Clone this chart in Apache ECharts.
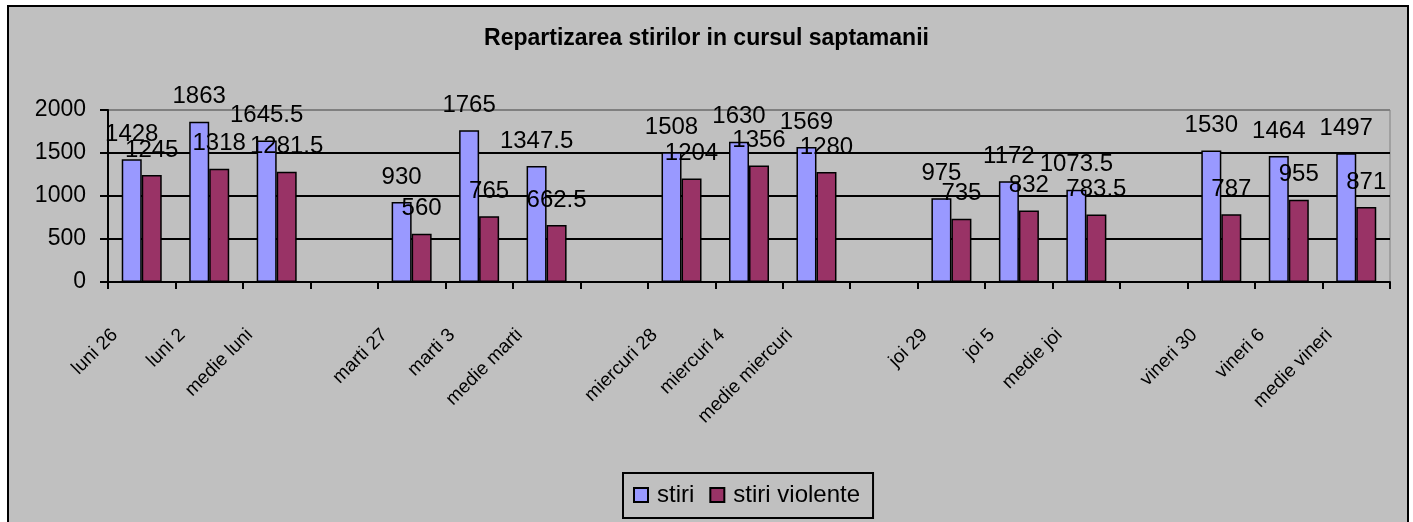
<!DOCTYPE html>
<html>
<head>
<meta charset="utf-8">
<title>Repartizarea stirilor</title>
<script src="https://cdn.jsdelivr.net/npm/echarts@6/dist/echarts.min.js"></script>
<style>
    html, body { margin: 0; padding: 0; background: #fff; overflow: hidden; }
    #frame {
        position: absolute; left: 7px; top: 5px;
        width: 1402px; height: 530px;
        box-sizing: border-box;
        border: 2px solid #000;
        background: #c0c0c0;
    }
    #chart { position: absolute; left: 0; top: 0; width: 1413px; height: 522px; }
</style>
</head>
<body>
<div id="frame"></div>
<div id="chart"></div>
<script>
'use strict';

// categorii (coloanele goale separa zilele)
var zile = ['luni 26', 'luni 2', 'medie luni', '',
            'marti 27', 'marti 3', 'medie marti', '',
            'miercuri 28', 'miercuri 4', 'medie miercuri', '',
            'joi 29', 'joi 5', 'medie joi', '',
            'vineri 30', 'vineri 6', 'medie vineri'];

// valori
var stiri = [1428, 1863, 1645.5, null,
             930, 1765, 1347.5, null,
             1508, 1630, 1569, null,
             975, 1172, 1073.5, null,
             1530, 1464, 1497];
var stiriViolente = [1245, 1318, 1281.5, null,
                     560, 765, 662.5, null,
                     1204, 1356, 1280, null,
                     735, 832, 783.5, null,
                     787, 955, 871];

// axa y
var yTicks = [0, 500, 1000, 1500, 2000];

var chart = echarts.init(document.getElementById('chart'));

var font = 'Liberation Sans, Arial, sans-serif';

// eticheta de valoare deasupra barei
var valueLabel = {
    show: true,
    position: 'top',
    distance: 13,
    color: '#000',
    fontFamily: font,
    fontSize: 24,
    formatter: function(p){ return p.value; }
};

var option = {
    backgroundColor: 'transparent',
    animation: false,
    textStyle: { fontFamily: font },
    title: {
        text: 'Repartizarea stirilor in cursul saptamanii',
        left: 'center',
        top: 22,
        textStyle: { fontSize: 23, fontWeight: 'bold', color: '#000', fontFamily: font }
    },
    legend: {
        left: 623,
        top: 473,
        orient: 'horizontal',
        padding: [10, 13, 11, 10],
        itemGap: 15,
        itemWidth: 14,
        itemHeight: 14,
        borderColor: '#000',
        borderWidth: 2,
        icon: 'rect',
        textStyle: { fontSize: 24, color: '#000', fontFamily: font, padding: [0, 0, 0, 4] },
        data: ['stiri', 'stiri violente']
    },
    grid: [
        {   // zona graficului
            left: 108, right: 23, top: 110, bottom: 240,
            show: true,
            borderColor: '#808080',
            borderWidth: 1,
            backgroundColor: 'transparent'
        },
        {   // doar pentru etichetele rotite
            left: 81, right: 50, top: 110, bottom: 240
        }
    ],
    xAxis: [
        {
            type: 'category',
            gridIndex: 0,
            data: zile,
            boundaryGap: true,
            axisLine: { lineStyle: { color: '#000', width: 2 } },
            axisTick: { show: true, interval: 0, length: 7, lineStyle: { color: '#000', width: 2 } },
            axisLabel: { show: false },
            splitLine: { show: false }
        },
        {
            type: 'category',
            gridIndex: 1,
            data: zile,
            axisLine: { show: false },
            axisTick: { show: false },
            axisLabel: {
                show: true,
                interval: 0,
                rotate: 45,
                margin: 50,
                color: '#000',
                fontFamily: font,
                fontSize: 19
            }
        }
    ],
    yAxis: [
        {
            type: 'value',
            gridIndex: 0,
            min: yTicks[0],
            max: yTicks[yTicks.length - 1],
            interval: yTicks[1] - yTicks[0],
            axisLine: { show: true, lineStyle: { color: '#000', width: 2 } },
            axisTick: { show: true, length: 8, lineStyle: { color: '#000', width: 2 } },
            axisLabel: {
                color: '#000', fontSize: 23, margin: 22, fontFamily: font,
                formatter: function(v){ return String(v); }
            },
            splitLine: {
                show: true,
                lineStyle: { color: ['#000', '#000', '#000', '#000', '#808080'], width: 2 }
            }
        },
        {
            type: 'value',
            gridIndex: 1,
            show: false
        }
    ],
    series: [
        {
            name: 'stiri',
            type: 'bar',
            xAxisIndex: 0,
            yAxisIndex: 0,
            barWidth: 20,
            barGap: '0%',
            itemStyle: { color: '#9999ff', borderColor: '#000', borderWidth: 1.5 },
            label: valueLabel,
            data: stiri
        },
        {
            name: 'stiri violente',
            type: 'bar',
            xAxisIndex: 0,
            yAxisIndex: 0,
            barWidth: 20,
            barGap: '0%',
            itemStyle: { color: '#993366', borderColor: '#000', borderWidth: 1.5 },
            label: valueLabel,
            data: stiriViolente
        }
    ]
};

chart.setOption(option);
</script>
</body>
</html>
